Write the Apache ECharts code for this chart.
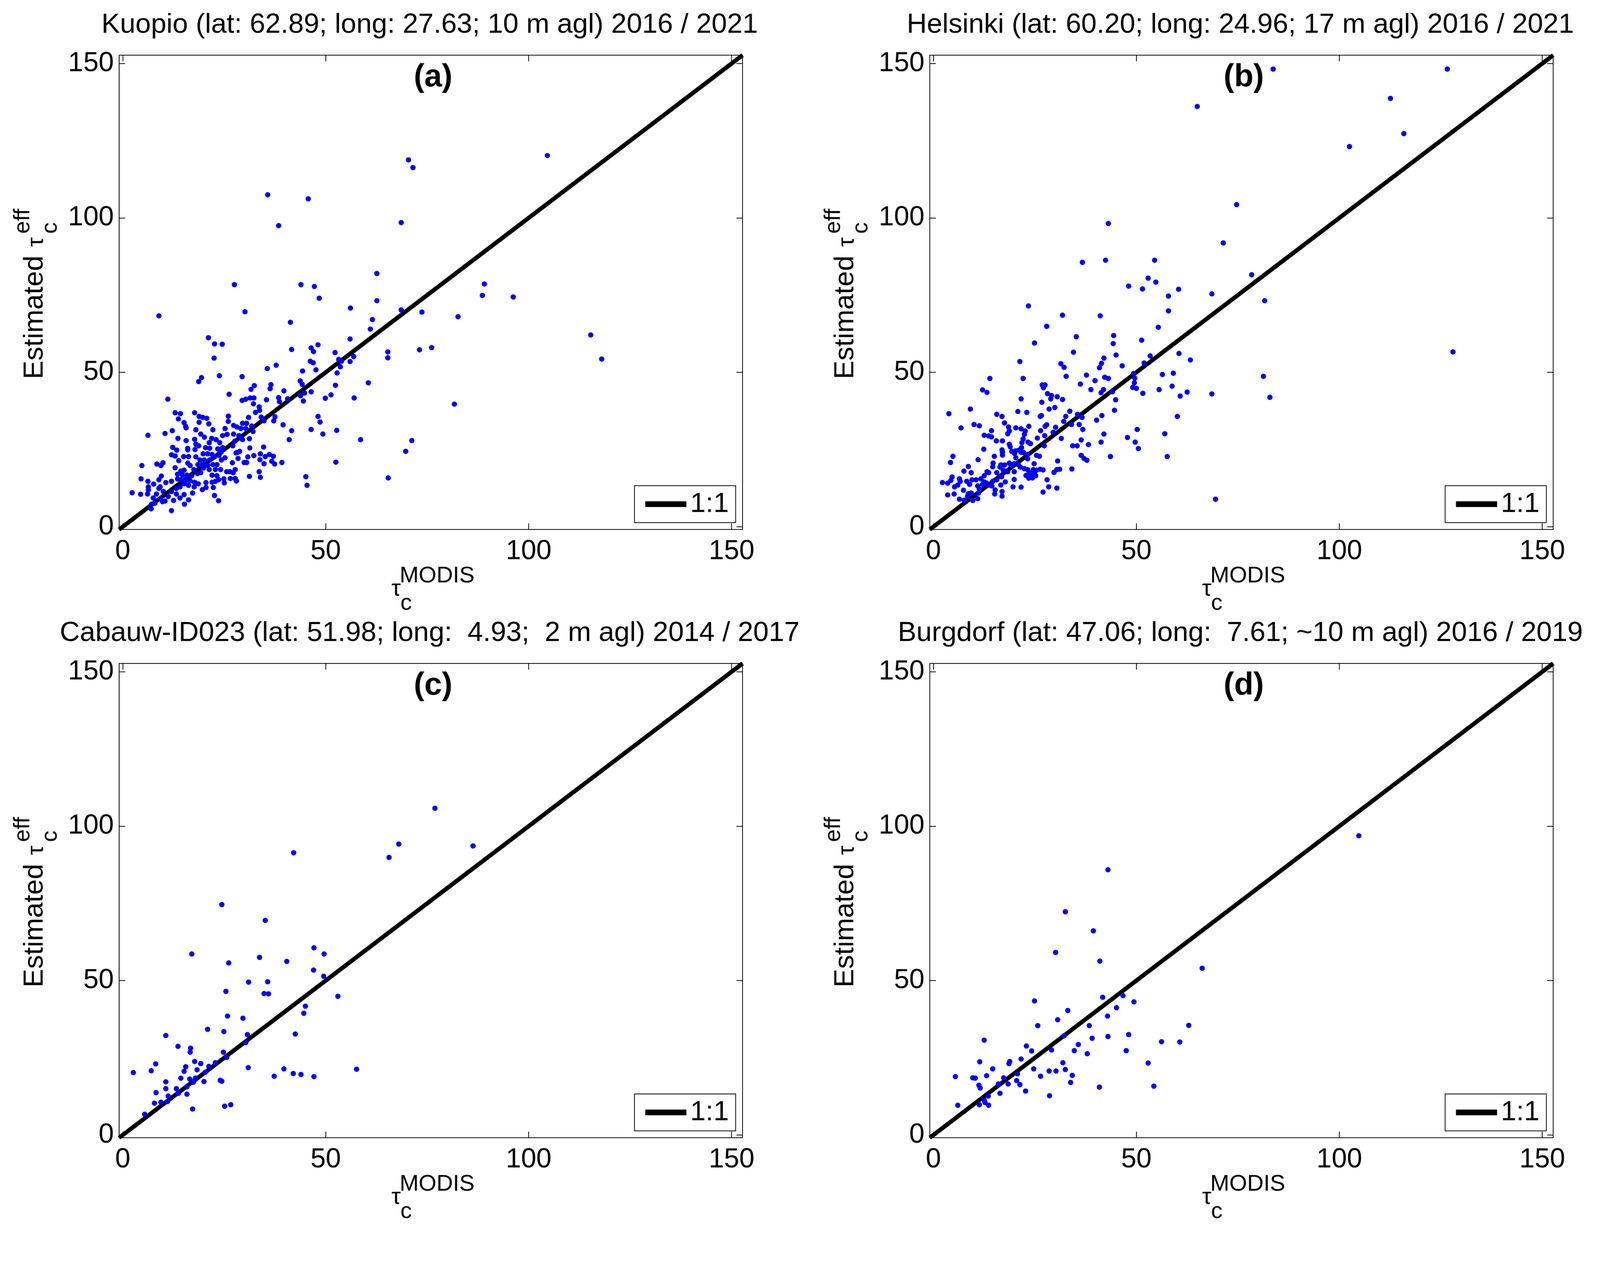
<!DOCTYPE html>
<html>
<head>
<meta charset="utf-8">
<script src="https://cdn.jsdelivr.net/npm/echarts@6/dist/echarts.min.js"></script>
<style>
  html, body { margin: 0; padding: 0; background: #fff; overflow: hidden; }
  #chart { width: 4204px; height: 3238px; transform-origin: 0 0; }
</style>
</head>
<body>
<div id="chart"></div>
<script>
// tick labels and axis range shared by all four panels
const tickValues = [0, 50, 100, 150];
const axisRange = [-0.9, 152.7];

const panelTitles = [
  'Kuopio (lat: 62.89; long: 27.63; 10 m agl) 2016 / 2021',
  'Helsinki (lat: 60.20; long: 24.96; 17 m agl) 2016 / 2021',
  'Cabauw-ID023 (lat: 51.98; long:  4.93;  2 m agl) 2014 / 2017',
  'Burgdorf (lat: 47.06; long:  7.61; ~10 m agl) 2016 / 2019'
];
const panelLetters = ['(a)', '(b)', '(c)', '(d)'];
const legendName = '1:1';

// [tau_c MODIS, estimated tau_c eff]
const kuopio = [
  [27.5,78.4],[43.9,78.4],[47.2,77.8],[48.4,74.0],[56.1,70.8],[8.9,68.3],[30.1,69.6],[41.3,66.2],[21.1,61.2],[22.6,59.2],
  [24.5,59.1],[22.5,54.6],[56.0,60.8],[41.6,57.4],[46.4,57.9],[48.1,58.9],[47.0,56.7],[52.3,56.4],[56.9,55.1],[53.2,54.2],
  [53.9,53.6],[56.0,53.5],[53.6,51.8],[46.2,53.6],[46.9,53.1],[47.6,50.8],[44.3,50.4],[37.8,52.3],[35.6,51.2],[52.8,49.8],
  [43.7,47.2],[44.2,46.1],[52.4,45.8],[46.4,43.7],[44.8,43.3],[43.8,42.4],[44.5,40.7],[51.3,42.7],[49.9,41.6],[57.0,41.7],
  [39.7,44.0],[38.4,41.8],[38.6,40.5],[40.6,41.4],[35.4,41.1],[36.5,46.0],[36.3,44.7],[29.4,48.6],[23.8,48.9],[19.4,48.3],
  [18.7,47.0],[26.2,42.9],[11.1,41.3],[32.4,45.7],[31.6,44.5],[29.4,40.9],[30.3,41.3],[31.4,41.7],[32.3,41.7],[32.2,39.8],
  [33.6,38.8],[33.7,37.7],[32.7,37.0],[34.1,35.5],[34.8,34.3],[37.5,35.6],[37.2,34.3],[48.1,35.7],[48.6,33.9],[39.5,33.0],
  [41.6,31.1],[46.4,31.5],[52.7,31.2],[49.3,30.0],[41.0,28.2],[58.6,28.2],[52.5,20.9],[45.1,16.2],[45.4,13.4],[39.2,20.8],
  [37.4,20.3],[36.7,21.2],[37.1,22.8],[36.1,23.4],[35.1,22.7],[33.9,23.6],[34.7,25.8],[34.8,20.4],[33.8,21.7],[32.3,23.0],
  [31.3,25.5],[31.2,16.3],[33.9,16.0],[33.6,17.8],[31.0,35.4],[30.5,33.5],[29.5,33.5],[31.8,32.6],[32.1,30.8],[31.2,28.5],
  [29.5,28.2],[30.3,31.8],[29.1,31.8],[27.3,32.8],[28.1,32.3],[27.3,30.0],[28.6,29.5],[29.1,28.7],[27.6,27.7],[27.1,26.2],
  [26.0,35.8],[26.0,34.1],[25.2,31.8],[25.7,29.9],[24.6,29.5],[24.6,25.6],[28.3,24.1],[27.9,23.9],[28.8,24.4],[28.4,22.1],
  [29.9,20.8],[30.5,20.8],[30.8,22.6],[27.0,20.7],[27.7,18.5],[27.2,17.5],[25.6,17.8],[26.4,17.8],[26.5,15.6],[27.7,15.6],
  [28.0,14.8],[24.9,15.5],[25.0,14.2],[25.2,22.3],[24.3,21.6],[23.7,23.1],[24.2,24.1],[23.4,25.2],[23.9,27.2],[23.0,28.2],
  [21.9,28.6],[21.3,27.2],[22.2,31.4],[21.2,33.3],[20.7,35.1],[19.7,35.4],[18.8,35.7],[18.8,33.8],[17.7,36.9],[18.0,31.4],
  [19.2,30.0],[20.1,29.0],[17.7,28.3],[18.0,26.7],[18.7,26.2],[17.8,25.0],[20.4,25.6],[21.4,25.4],[19.8,23.6],[20.9,23.6],
  [22.0,23.4],[22.6,22.6],[18.0,22.6],[19.0,21.6],[20.1,21.6],[21.4,21.6],[18.5,20.1],[19.6,20.1],[20.9,19.8],[22.2,20.1],
  [23.2,20.1],[19.9,19.0],[21.3,18.5],[22.8,18.5],[24.1,18.5],[22.0,16.7],[23.2,16.5],[23.6,15.2],[22.0,14.4],[22.8,14.7],
  [22.3,12.7],[20.5,14.3],[20.5,12.7],[19.6,12.0],[22.6,10.1],[23.6,8.4],[19.2,17.5],[18.4,17.2],[17.5,18.5],[16.6,19.8],
  [16.0,20.6],[16.2,22.7],[16.0,25.4],[16.0,24.9],[15.6,27.9],[15.6,32.0],[15.5,32.5],[15.1,33.7],[13.7,34.9],[14.2,36.6],
  [12.9,36.9],[13.6,28.6],[12.2,31.1],[10.4,30.2],[6.2,29.6],[12.3,25.7],[13.3,24.8],[12.0,23.3],[12.9,22.9],[13.8,21.4],
  [15.0,22.7],[12.9,19.1],[8.4,20.3],[9.4,19.8],[9.9,20.7],[4.7,19.8],[4.5,15.5],[6.2,14.7],[7.6,13.8],[8.9,15.2],
  [9.5,16.4],[10.6,14.3],[12.0,14.7],[13.5,15.5],[14.3,18.0],[15.1,18.3],[13.5,17.0],[14.7,16.7],[15.8,16.7],[17.0,16.5],
  [14.3,15.2],[15.5,14.9],[16.6,14.9],[17.7,14.4],[18.6,13.9],[15.1,13.9],[16.2,13.4],[17.6,12.9],[14.1,12.9],[13.2,12.4],
  [17.2,10.9],[16.2,8.7],[15.2,7.3],[15.1,10.4],[14.1,9.3],[13.2,10.6],[12.5,8.5],[12.0,5.2],[11.2,9.8],[12.0,11.4],
  [10.0,11.4],[9.2,12.9],[8.9,12.4],[6.3,12.9],[6.3,11.9],[6.1,10.6],[7.5,9.3],[8.3,10.6],[9.3,9.1],[9.8,8.1],
  [10.4,8.3],[7.9,7.6],[7.1,7.3],[7.0,5.8],[4.4,10.5],[2.3,11.0],
  [104.6,120.2],[70.4,118.8],[71.5,116.3],[35.7,107.5],[45.7,106.2],[38.4,97.5],[68.6,98.5],[62.6,82.0],[89.1,78.6],[88.6,74.9],
  [96.2,74.4],[62.6,73.2],[68.6,70.2],[73.7,69.5],[82.6,68.0],[61.5,67.1],[61.0,64.0],[115.3,62.1],[118.0,54.3],[65.3,56.6],
  [65.3,54.7],[73.1,57.3],[76.1,58.0],[60.5,46.6],[81.7,39.7],[71.2,27.9],[69.7,24.4],[65.4,15.8]
];

const helsinki = [
  [48.1,77.9],[51.5,77.0],[54.8,79.2],[60.4,76.9],[57.9,74.7],[57.9,69.9],[23.4,71.5],[31.8,68.5],[41.1,68.3],[27.9,64.9],
  [55.4,64.6],[44.4,61.9],[44.3,59.3],[51.3,60.4],[35.2,61.5],[24.9,59.5],[34.5,56.5],[45.0,55.6],[42.0,54.6],[41.4,52.9],
  [40.9,51.5],[53.4,55.3],[51.9,53.0],[46.5,52.1],[60.5,56.1],[21.3,53.5],[31.4,52.8],[32.2,51.6],[32.7,48.7],[37.7,49.1],
  [39.8,47.3],[42.2,48.4],[43.1,48.0],[36.2,46.2],[38.8,44.4],[41.9,44.4],[41.3,43.4],[44.1,43.7],[44.9,41.1],[44.6,37.7],
  [49.3,49.6],[49.6,48.1],[49.5,46.6],[49.1,45.1],[50.0,44.8],[51.6,43.2],[56.4,49.3],[59.1,49.7],[55.6,44.4],[58.8,45.5],
  [60.8,42.3],[60.1,35.7],[41.5,36.0],[40.2,34.5],[50.2,31.5],[42.0,30.0],[41.3,27.4],[47.8,28.9],[49.7,27.4],[50.5,25.3],
  [57.0,30.1],[57.6,22.7],[43.6,22.7],[13.9,48.0],[12.1,44.3],[13.2,43.5],[21.6,41.4],[22.1,48.0],[26.8,45.9],[27.5,45.9],
  [27.1,45.0],[28.1,43.1],[29.1,42.5],[28.9,41.4],[30.5,42.1],[31.8,41.2],[26.7,40.3],[29.9,38.6],[28.5,38.1],[33.6,37.4],
  [32.6,35.7],[32.1,34.1],[34.0,33.1],[35.5,36.4],[36.6,35.4],[35.9,33.1],[36.8,31.5],[30.1,32.2],[29.5,30.6],[31.5,28.6],
  [36.4,28.1],[38.2,26.6],[34.3,26.2],[35.4,26.2],[36.4,23.1],[37.1,22.1],[37.8,21.5],[30.6,21.3],[34.1,18.7],[31.1,18.6],
  [30.4,18.5],[29.7,17.6],[28.0,15.2],[28.4,12.9],[30.4,12.5],[27.0,11.2],[3.8,36.6],[9.1,38.1],[6.8,32.0],[10.0,33.1],
  [11.3,32.7],[15.6,36.4],[16.9,35.7],[17.5,33.6],[18.5,32.3],[18.7,31.0],[18.3,30.1],[20.8,37.3],[23.0,37.0],[26.3,35.7],
  [26.6,36.0],[20.3,32.0],[21.6,31.7],[23.5,32.5],[22.6,31.0],[22.4,29.9],[27.9,33.0],[27.5,32.5],[26.4,31.1],[27.4,29.5],
  [25.6,28.7],[27.3,26.2],[22.1,28.4],[21.8,27.2],[23.3,27.4],[23.9,26.9],[21.7,25.6],[21.6,24.1],[14.3,31.1],[12.5,29.6],
  [13.6,29.4],[14.3,29.1],[15.5,27.8],[17.0,27.8],[12.4,25.1],[18.7,26.7],[18.9,25.9],[16.9,24.9],[17.0,24.1],[17.0,23.2],
  [15.0,22.8],[11.0,21.7],[19.3,24.4],[20.3,24.6],[21.1,24.8],[20.0,23.7],[22.2,24.0],[23.2,23.4],[23.2,22.0],[20.3,22.3],
  [25.4,23.1],[26.1,22.8],[24.8,20.4],[4.8,22.8],[4.2,20.8],[8.6,19.5],[7.5,18.0],[9.3,17.5],[14.7,20.6],[14.6,19.4],
  [16.6,20.0],[16.4,19.3],[17.5,20.0],[18.7,20.6],[19.1,19.8],[19.9,20.4],[20.9,20.1],[21.4,19.3],[22.4,18.8],[23.2,18.5],
  [24.6,18.5],[26.3,18.6],[27.0,18.4],[24.9,17.5],[23.6,17.5],[22.8,16.6],[23.5,15.7],[24.4,15.8],[25.2,16.5],[19.9,17.8],
  [18.3,17.8],[17.2,18.3],[15.6,17.5],[16.8,16.2],[15.6,15.2],[14.6,14.7],[13.2,17.8],[13.6,17.5],[12.5,16.5],[11.7,15.5],
  [10.5,15.2],[9.5,15.2],[8.2,14.7],[8.9,13.7],[6.4,15.5],[6.6,14.7],[4.6,16.1],[4.3,15.0],[3.5,14.1],[2.2,14.3],
  [5.2,12.9],[6.0,13.5],[7.4,11.8],[3.5,10.3],[5.1,10.6],[8.6,10.7],[9.3,10.9],[8.4,9.9],[6.4,8.9],[7.6,8.6],
  [9.7,8.5],[10.9,9.1],[11.1,10.9],[11.3,12.2],[10.9,13.2],[12.1,13.7],[13.0,14.2],[12.5,14.5],[13.6,13.5],[14.4,13.2],
  [15.2,11.9],[15.1,10.6],[16.9,11.4],[16.9,9.9],[16.6,13.5],[17.7,14.5],[19.9,15.3],[19.6,12.9],[21.6,12.8],[25.4,18.3],
  [24.2,17.0],
  [83.7,148.2],[126.6,148.2],[65.0,136.1],[112.6,138.7],[115.9,127.3],[102.5,123.1],[74.7,104.3],[43.1,98.2],[71.4,91.9],[36.7,85.6],
  [42.4,86.3],[54.5,86.3],[78.4,81.6],[52.9,80.5],[68.6,75.4],[81.6,73.2],[128.0,56.6],[63.3,54.0],[81.3,48.7],[82.9,41.9],
  [68.6,43.0],[62.5,43.6],[69.5,8.9]
];

const cabauw = [
  [76.9,105.8],[68.0,94.2],[65.6,89.9],[86.3,93.6],[42.1,91.4],[24.4,74.6],[35.1,69.5],[17.0,58.6],[47.1,60.6],[49.6,58.6],
  [33.7,57.5],[26.1,55.7],[40.4,56.2],[47.0,53.4],[49.5,51.4],[31.0,49.5],[35.7,49.6],[25.4,46.5],[34.8,45.8],[35.9,45.7],
  [53.0,44.9],[45.0,41.7],[44.6,39.4],[25.8,38.5],[29.6,37.8],[20.9,34.2],[24.9,33.5],[10.6,32.2],[30.7,32.5],[30.3,29.9],
  [42.5,32.7],[13.6,28.7],[16.7,28.1],[16.6,26.8],[24.8,26.8],[25.6,25.1],[17.7,23.8],[19.2,23.1],[22.8,23.4],[21.2,22.2],
  [8.1,23.0],[15.5,22.1],[15.1,20.6],[18.3,21.1],[20.3,20.3],[7.0,20.8],[2.6,20.2],[30.9,21.8],[39.7,21.4],[42.0,19.9],
  [43.9,19.6],[47.1,18.9],[37.3,19.0],[57.6,21.3],[14.3,18.4],[16.5,18.1],[17.9,18.4],[17.4,17.1],[20.0,17.3],[24.0,17.7],
  [24.4,17.4],[10.6,17.2],[10.6,15.0],[13.2,15.0],[15.8,15.6],[13.7,13.5],[8.2,13.7],[11.2,12.6],[15.8,13.2],[11.0,10.8],
  [9.4,10.6],[7.8,10.3],[5.4,6.7],[17.2,8.4],[25.1,9.3],[26.6,9.8]
];

const burgdorf = [
  [104.8,96.9],[43.0,85.9],[32.5,72.3],[39.4,66.1],[30.1,59.1],[41.0,56.3],[66.2,54.0],[41.7,44.6],[46.7,45.1],[49.4,43.1],
  [24.9,43.4],[45.1,41.2],[33.1,40.3],[42.9,38.5],[30.6,37.3],[25.7,35.4],[38.4,35.4],[62.9,35.5],[12.5,30.7],[32.2,32.1],
  [43.0,31.9],[39.1,31.3],[48.1,32.5],[56.2,30.2],[60.7,30.1],[22.9,28.8],[35.7,29.3],[24.2,27.2],[29.1,27.5],[34.7,27.3],
  [37.9,26.3],[47.5,27.3],[21.6,24.6],[11.4,23.7],[18.8,23.8],[18.6,23.1],[31.9,23.4],[52.9,23.3],[14.6,21.4],[24.7,21.4],
  [32.5,21.2],[28.5,20.7],[30.2,20.7],[20.7,19.8],[5.4,18.9],[9.7,18.5],[10.3,18.4],[13.1,19.2],[17.3,18.5],[26.4,19.0],
  [34.2,19.3],[20.5,17.6],[16.0,16.5],[18.4,16.5],[21.3,16.3],[33.8,17.0],[11.2,16.1],[11.5,15.2],[40.9,15.5],[54.3,15.8],
  [22.7,14.2],[16.4,13.5],[28.6,12.7],[13.5,12.6],[12.5,11.3],[12.7,10.5],[11.3,9.8],[13.6,9.6],[6.0,9.6]
];

const panelData = [kuopio, helsinki, cabauw, burgdorf];

// layout (pixels of the 4204 x 3238 figure)
const FIG_W = 4204, FIG_H = 3238;
const FONT = '"Liberation Sans", Arial, Helvetica, sans-serif';
const plotW = 1638, plotH = 1246;
const panels = [
  { left: 313, top: 145 },
  { left: 2443, top: 145 },
  { left: 313, top: 1743 },
  { left: 2443, top: 1743 }
];
const BLUE = '#0000ff';

// the visible viewport can be a little smaller than the figure: fit it
const box = document.getElementById('chart');
const fit = Math.min(window.innerWidth / FIG_W, window.innerHeight / FIG_H, 1);
if (fit < 1) box.style.transform = 'scale(' + fit + ')';

const chart = echarts.init(box, null, { renderer: 'canvas' });

const grid = [], xAxis = [], yAxis = [], series = [], legend = [], title = [], graphic = [];

function makeAxis(gridIndex, position, showLabels) {
  return {
    type: 'value',
    gridIndex: gridIndex,
    position: position,
    min: axisRange[0],
    max: axisRange[1],
    axisLine: { show: true, onZero: false, lineStyle: { color: '#000', width: 2 } },
    axisTick: { show: true, inside: true, length: 16, customValues: tickValues, lineStyle: { color: '#000', width: 2 } },
    axisLabel: {
      show: showLabels,
      customValues: tickValues,
      color: '#000',
      fontSize: 72,
      fontFamily: FONT,
      margin: (position === 'bottom') ? 22 : 14
    },
    splitLine: { show: false }
  };
}

function txt(text, x, y, size, align, weight) {
  return {
    type: 'text',
    x: x, y: y,
    silent: true,
    style: {
      text: text,
      fill: '#000',
      font: (weight || 'normal') + ' ' + size + 'px ' + FONT,
      align: align, textAlign: align,
      verticalAlign: 'middle', textVerticalAlign: 'middle'
    }
  };
}

panels.forEach((p, i) => {
  const cx = p.left + plotW / 2;
  const cy = p.top + plotH / 2;
  const bottom = p.top + plotH;

  grid.push({ left: p.left, top: p.top, width: plotW, height: plotH });
  xAxis.push(makeAxis(i, 'bottom', true), makeAxis(i, 'top', false));
  yAxis.push(makeAxis(i, 'left', true), makeAxis(i, 'right', false));

  series.push({
    name: legendName,
    type: 'line',
    xAxisIndex: 2 * i,
    yAxisIndex: 2 * i,
    data: [[axisRange[0], axisRange[0]], [axisRange[1], axisRange[1]]],
    symbol: 'none',
    lineStyle: { color: '#000', width: 11 },
    itemStyle: { color: '#000' },
    z: 2,
    silent: true
  });
  series.push({
    name: 'obs' + i,
    type: 'scatter',
    xAxisIndex: 2 * i,
    yAxisIndex: 2 * i,
    data: panelData[i],
    symbol: 'circle',
    symbolSize: 14,
    itemStyle: { color: BLUE, opacity: 1 },
    z: 3,
    silent: true
  });

  legend.push({
    data: [legendName],
    right: FIG_W - (p.left + plotW - 18),
    bottom: FIG_H - (bottom - 18),
    orient: 'horizontal',
    itemWidth: 108,
    itemHeight: 15,
    padding: [12, 18, 12, 21],
    borderColor: '#000',
    borderWidth: 2,
    backgroundColor: '#fff',
    selectedMode: false,
    lineStyle: { width: 15, color: '#000' },
    textStyle: { fontSize: 73, color: '#000', fontFamily: FONT, padding: [0, 0, 0, 5] }
  });

  title.push({
    text: panelTitles[i],
    left: cx - 3,
    top: p.top - 116,
    textAlign: 'center',
    padding: 0,
    textStyle: { fontSize: 73, fontWeight: 'normal', color: '#000', fontFamily: FONT }
  });

  // panel letter
  graphic.push(txt(panelLetters[i], cx + 6, p.top + 59, 83, 'center', 'bold'));

  // x axis title: tau_c^MODIS
  graphic.push(txt('\u03c4', cx - 79, bottom + 157, 62, 'right'));
  graphic.push(txt('MODIS', cx - 82, bottom + 122, 60, 'left'));
  graphic.push(txt('c', cx - 80, bottom + 194, 60, 'left'));

  // y axis title: Estimated tau_c^eff (rotated)
  graphic.push({
    type: 'group',
    x: p.left,
    y: cy,
    rotation: Math.PI / 2,
    silent: true,
    children: [
      txt('Estimated', -228, -221, 73, 'left'),
      txt('\u03c4', 120, -217, 62, 'left'),
      txt('eff', 154, -253, 60, 'left'),
      txt('c', 154, -181, 60, 'left')
    ]
  });
});

chart.setOption({
  backgroundColor: '#fff',
  animation: false,
  title: title,
  legend: legend,
  grid: grid,
  xAxis: xAxis,
  yAxis: yAxis,
  series: series,
  graphic: { elements: graphic }
});
</script>
</body>
</html>
